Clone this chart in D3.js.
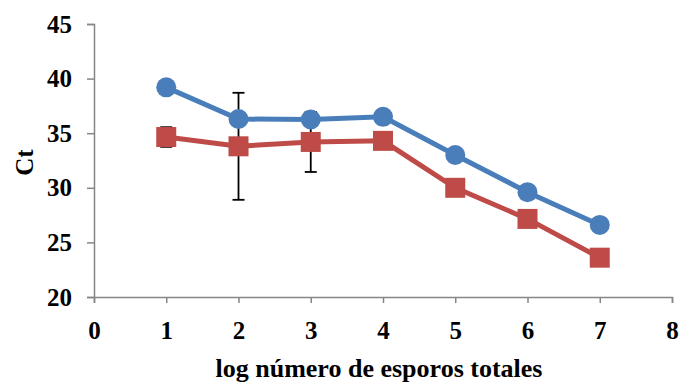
<!DOCTYPE html>
<html>
<head>
<meta charset="utf-8">
<script src="https://cdn.jsdelivr.net/npm/d3@7"></script>
<style>
  body { margin: 0; background: #fff; }
  text { font-family: "Liberation Serif", "Times New Roman", serif; font-weight: bold; }
</style>
</head>
<body>
<div id="chart"></div>
<script>
// data
const xValues = [1, 2, 3, 4, 5, 6, 7];
const blueCt = [39.2, 36.3, 36.25, 36.5, 33.0, 29.6, 26.6];
const redCt = [34.65, 33.8, 34.2, 34.3, 30.0, 27.15, 23.6];
const redErr = [0.9, 4.9, 2.75, 0, 0, 0, 0];
const xTicks = [0, 1, 2, 3, 4, 5, 6, 7, 8];
const yTicks = [20, 25, 30, 35, 40, 45];

//dimensions
let dimensions = {
    width: 681,
    height: 382,
    margin: { top: 24, right: 9, bottom: 85, left: 94 }
};
dimensions.boundW = dimensions.width - dimensions.margin.left - dimensions.margin.right;
dimensions.boundH = dimensions.height - dimensions.margin.top - dimensions.margin.bottom;

const svg = d3.select('#chart').append('svg')
    .attr('width', dimensions.width)
    .attr('height', dimensions.height);

const bounds = svg.append('g')
    .attr('transform', `translate(${dimensions.margin.left},${dimensions.margin.top})`);

//scales
const xScale = d3.scaleLinear()
    .domain([0, 8])
    .range([0, dimensions.boundW]);

const yScale = d3.scaleLinear()
    .domain([20, 45])
    .range([dimensions.boundH, 0]);

//axes
const yAxis = bounds.append('g')
    .call(d3.axisLeft(yScale).tickValues(yTicks).tickSize(7).tickPadding(15));

const xAxis = bounds.append('g')
    .attr('transform', `translate(0,${dimensions.boundH})`)
    .call(d3.axisBottom(xScale).tickValues(xTicks).tickSize(6).tickPadding(18));

[xAxis, yAxis].forEach(ax => {
    ax.select('.domain').attr('stroke', '#868686').attr('stroke-width', 1.5);
    ax.selectAll('.tick line').attr('stroke', '#868686').attr('stroke-width', 1.5);
    ax.selectAll('.tick text')
        .attr('fill', '#000')
        .style('font-size', '25px')
        .style('font-family', '"Liberation Serif", serif')
        .style('font-weight', 'bold');
});

//error bars
const errData = xValues.map((x, i) => ({ x: x, y: redCt[i], e: redErr[i] })).filter(d => d.e > 0);
const errG = bounds.append('g');
errG.selectAll('.err')
    .data(errData)
    .join('line')
    .attr('x1', d => xScale(d.x))
    .attr('x2', d => xScale(d.x))
    .attr('y1', d => yScale(d.y - d.e))
    .attr('y2', d => yScale(d.y + d.e))
    .attr('stroke', '#000')
    .attr('stroke-width', 1.8);
errG.selectAll('.capTop')
    .data(errData)
    .join('line')
    .attr('x1', d => xScale(d.x) - 6)
    .attr('x2', d => xScale(d.x) + 6)
    .attr('y1', d => yScale(d.y + d.e))
    .attr('y2', d => yScale(d.y + d.e))
    .attr('stroke', '#000')
    .attr('stroke-width', 1.8);
errG.selectAll('.capBot')
    .data(errData)
    .join('line')
    .attr('x1', d => xScale(d.x) - 6)
    .attr('x2', d => xScale(d.x) + 6)
    .attr('y1', d => yScale(d.y - d.e))
    .attr('y2', d => yScale(d.y - d.e))
    .attr('stroke', '#000')
    .attr('stroke-width', 1.8);

//lines
const lineGen = d3.line()
    .x(d => xScale(d[0]))
    .y(d => yScale(d[1]));

const redPts = xValues.map((x, i) => [x, redCt[i]]);
const bluePts = xValues.map((x, i) => [x, blueCt[i]]);

bounds.append('path')
    .attr('d', lineGen(redPts))
    .attr('fill', 'none')
    .attr('stroke', '#BE4B48')
    .attr('stroke-width', 5);

bounds.selectAll('.sq')
    .data(redPts)
    .join('rect')
    .attr('x', d => xScale(d[0]) - 10)
    .attr('y', d => yScale(d[1]) - 10)
    .attr('width', 20)
    .attr('height', 20)
    .attr('fill', '#BE4B48');

bounds.append('path')
    .attr('d', lineGen(bluePts))
    .attr('fill', 'none')
    .attr('stroke', '#4A7EBB')
    .attr('stroke-width', 5);

bounds.selectAll('.dot')
    .data(bluePts)
    .join('circle')
    .attr('cx', d => xScale(d[0]))
    .attr('cy', d => yScale(d[1]))
    .attr('r', 10)
    .attr('fill', '#4A7EBB');

//labels
svg.append('text')
    .attr('x', 379)
    .attr('y', 377)
    .attr('text-anchor', 'middle')
    .style('font-size', '26px')
    .text('log número de esporos totales');

svg.append('text')
    .attr('transform', `translate(33,${dimensions.margin.top + dimensions.boundH / 2 + 2}) rotate(-90)`)
    .attr('text-anchor', 'middle')
    .style('font-size', '25px')
    .text('Ct');
</script>
</body>
</html>
